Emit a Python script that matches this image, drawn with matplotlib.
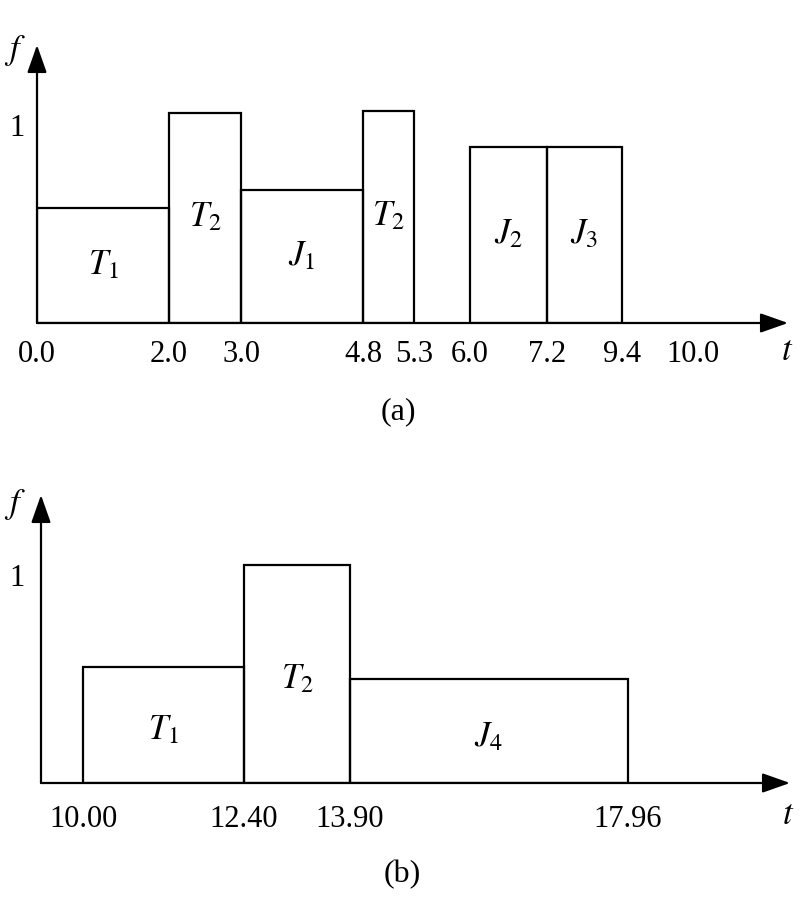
import numpy as np
from matplotlib import pyplot as plt

plt.rcParams['font.family'] = ['Liberation Serif', 'DejaVu Serif']
plt.rcParams['mathtext.fontset'] = 'stix'

# (a) segments
a_start = [0.0, 2.0, 3.0, 4.8, 6.0, 7.2]
a_end = [2.0, 3.0, 4.8, 5.3, 7.2, 9.4]
a_f = [0.58, 1.06, 0.67, 1.07, 0.89, 0.89]
a_names = ['T_1', 'T_2', 'J_1', 'T_2', 'J_2', 'J_3']
a_ticks = [0.0, 2.0, 3.0, 4.8, 5.3, 6.0, 7.2, 9.4, 10.0]
a_ticklabels = ['0.0', '2.0', '3.0', '4.8', '5.3', '6.0', '7.2', '9.4', '10.0']

# (b) segments
b_start = [10.00, 12.40, 13.90]
b_end = [12.40, 13.90, 17.96]
b_f = [0.56, 1.05, 0.50]
b_names = ['T_1', 'T_2', 'J_4']
b_ticks = [10.00, 12.40, 13.90, 17.96]
b_ticklabels = ['10.00', '12.40', '13.90', '17.96']

# the time axis is not drawn to scale: piecewise layout of the axis
a_layout_v = [-1.0, 0.0, 2.0, 3.0, 4.8, 5.3, 6.0, 7.2, 9.4, 10.0, 11.0]
a_layout_p = [-29, 37, 169, 241, 363, 414, 470, 547, 622, 693, 811]
b_layout_v = [9.0, 10.0, 12.4, 13.9, 17.96, 21.0]
b_layout_p = [16, 83, 244, 350, 628, 836]

W, H = 805, 916
fig = plt.figure(figsize=(W / 100, H / 100), dpi=100)


def make_panel(rect_px, lv, lp, y_top, start, end, f, names, ticks, ticklabels, tick_pad, one_pad, name_shift):
    x0, y0, x1, y1 = rect_px
    ax = fig.add_axes([x0 / W, 1 - y1 / H, (x1 - x0) / W, (y1 - y0) / H])
    fwd = lambda v: np.interp(v, lv, lp)
    inv = lambda p: np.interp(p, lp, lv)
    ax.set_xscale('function', functions=(fwd, inv))
    ax.set_xlim(inv(x0), inv(x1))
    ax.set_ylim(0, y_top)

    for s in ax.spines.values():
        s.set_visible(False)
    ax.patch.set_visible(False)

    ax.bar(start, f, width=np.array(end) - np.array(start), align='edge',
           fill=False, edgecolor='black', linewidth=1.6)
    for s, e, h, n in zip(start, end, f, names):
        ax.text((s + e) / 2, h / 2 - name_shift, '$' + n + '$', ha='center', va='center', fontsize=25)

    # axes with arrows
    ap = dict(arrowstyle='-|>,head_length=0.85,head_width=0.3', mutation_scale=20,
              lw=1.6, color='black', shrinkA=0, shrinkB=0)
    ax.annotate('', xy=(1, 0), xytext=(0, 0), xycoords='axes fraction', arrowprops=ap)
    ax.annotate('', xy=(0, 1), xytext=(0, 0), xycoords='axes fraction', arrowprops=ap)

    ax.set_xticks(ticks)
    ax.set_xticklabels(ticklabels)
    ax.set_yticks([1])
    ax.set_yticklabels(['1'])
    ax.xaxis.set_minor_locator(plt.NullLocator())
    ax.tick_params(axis='x', length=0, pad=tick_pad, labelsize=22)
    ax.tick_params(axis='y', length=0, pad=one_pad, labelsize=22)
    return ax


make_panel((37, 45, 788, 323), a_layout_v, a_layout_p, (323 - 45) / 198,
           a_start, a_end, a_f, a_names, a_ticks, a_ticklabels, 12, 9, 0.0)
make_panel((41, 495, 790, 783), b_layout_v, b_layout_p, (783 - 495) / 208,
           b_start, b_end, b_f, b_names, b_ticks, b_ticklabels, 16, 12, 0.03)

# axis names and captions
for x, y, s in [(15, 50, '$f$'), (787, 352, '$t$'), (15, 505, '$f$'), (788, 815, '$t$')]:
    fig.text(x / W, 1 - y / H, s, ha='center', va='center', fontsize=25)
fig.text(398 / W, 1 - 412 / H, '(a)', ha='center', va='center', fontsize=23)
fig.text(402 / W, 1 - 875 / H, '(b)', ha='center', va='center', fontsize=23)

plt.savefig('out.png', dpi=100, facecolor='white')
